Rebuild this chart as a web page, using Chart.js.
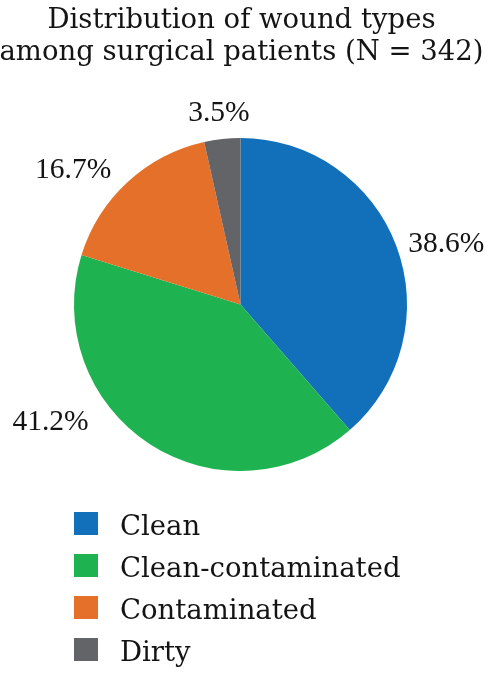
<!DOCTYPE html>
<html>
<head>
<meta charset="utf-8">
<script src="https://cdn.jsdelivr.net/npm/chart.js@4.4.1/dist/chart.umd.min.js"></script>
<style>
  html, body { margin: 0; padding: 0; background: #ffffff; }
  #wrap { width: 487px; height: 675px; position: relative; }
</style>
</head>
<body>
<div id="wrap"><canvas id="c" width="487" height="675"></canvas></div>
<script>
// ---- data ----
const titleLines = ["Distribution of wound types", "among surgical patients (N = 342)"];
const categories = ["Clean", "Clean-contaminated", "Contaminated", "Dirty"];
const percentages = [38.6, 41.2, 16.7, 3.5];

// ---- styles ----
const sliceColors = ["#1170B9", "#1FB251", "#E5702A", "#636467"];
const textColor = "#141414";
const textFont = "'DejaVu Serif', serif";
const labelFont = "'Liberation Serif', 'Times New Roman', serif";
// per-label nudges (px) applied after placing label at the slice mid-angle
const labelNudges = [[0, 0], [-54, -34], [-8, -5], [-2, -16]];

const outsideLabels = {
  id: 'outsideLabels',
  afterDatasetsDraw(chart) {
    const ctx = chart.ctx;
    const meta = chart.getDatasetMeta(0);
    ctx.save();
    ctx.fillStyle = textColor;
    ctx.font = "29.5px " + labelFont;
    ctx.textBaseline = 'alphabetic';
    meta.data.forEach((arc, i) => {
      const p = arc.getProps(['x', 'y', 'startAngle', 'endAngle', 'outerRadius'], true);
      const mid = (p.startAngle + p.endAngle) / 2;
      const r = p.outerRadius + 12.5;
      const dx = Math.cos(mid), dy = Math.sin(mid);
      let x = p.x + r * dx, y = p.y + r * dy + 10;
      if (Math.abs(dx) < 0.3) ctx.textAlign = 'center';
      else ctx.textAlign = dx > 0 ? 'left' : 'right';
      const n = labelNudges[i] || [0, 0];
      ctx.fillText(percentages[i].toFixed(1) + '%', x + n[0], y + n[1]);
    });
    ctx.restore();
  },
  afterDraw(chart) {
    const ctx = chart.ctx;
    ctx.save();
    // title
    ctx.fillStyle = textColor;
    ctx.font = "27.5px " + textFont;
    ctx.textAlign = 'center';
    ctx.textBaseline = 'alphabetic';
    titleLines.forEach((t, i) => ctx.fillText(t, 241.5, 28 + i * 32));
    // legend
    ctx.textAlign = 'left';
    chart.data.labels.forEach((lab, i) => {
      const base = 535 + i * 42;
      ctx.fillStyle = chart.data.datasets[0].backgroundColor[i];
      ctx.fillRect(74, base - 23, 24, 23);
      ctx.fillStyle = textColor;
      ctx.fillText(lab, 120, base);
    });
    ctx.restore();
  }
};

new Chart(document.getElementById('c'), {
  type: 'pie',
  data: {
    labels: categories,
    datasets: [{
      data: percentages,
      backgroundColor: sliceColors,
      borderWidth: 0
    }]
  },
  options: {
    responsive: false,
    animation: false,
    events: [],
    layout: { padding: { left: 74, right: 80, top: 138, bottom: 204 } },
    plugins: {
      legend: { display: false },
      title: { display: false },
      tooltip: { enabled: false }
    }
  },
  plugins: [outsideLabels]
});
</script>
</body>
</html>
